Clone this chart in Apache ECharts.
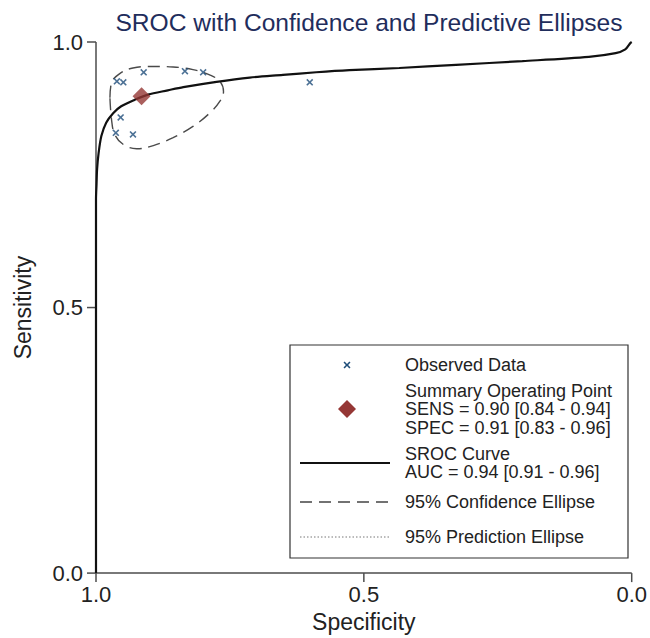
<!DOCTYPE html>
<html>
<head>
<meta charset="utf-8">
<script src="https://cdn.jsdelivr.net/npm/echarts@6/dist/echarts.min.js"></script>
<style>
html,body{margin:0;padding:0;background:#fff;}
#chart{width:650px;height:638px;}
</style>
</head>
<body>
<div id="chart"></div>
<script>
// Observed study points
const obsSpec = [0.961, 0.949, 0.911, 0.834, 0.800, 0.601, 0.954, 0.963, 0.931];
const obsSens = [0.926, 0.924, 0.943, 0.945, 0.943, 0.924, 0.858, 0.829, 0.826];
// Summary operating point
const summarySpec = [0.915];
const summarySens = [0.898];
// SROC curve
const srocSpec = [1.0, 1.0, 0.999, 0.998, 0.995, 0.990, 0.981, 0.968, 0.953, 0.928, 0.903, 0.866, 0.837, 0.775, 0.713, 0.651, 0.589, 0.527, 0.434, 0.328, 0.204, 0.080, 0.030, 0.012, 0.0025, 0.0];
const srocSens = [0.0, 0.704, 0.732, 0.760, 0.792, 0.823, 0.848, 0.866, 0.879, 0.891, 0.901, 0.909, 0.915, 0.925, 0.933, 0.938, 0.943, 0.947, 0.951, 0.957, 0.964, 0.972, 0.979, 0.986, 0.998, 1.0];
// 95% confidence ellipse
const confSpec = [0.974, 0.971, 0.955, 0.931, 0.893, 0.856, 0.819, 0.788, 0.769, 0.762, 0.769, 0.788, 0.819, 0.856, 0.893, 0.924, 0.949, 0.965, 0.971, 0.974];
const confSens = [0.895, 0.923, 0.941, 0.951, 0.954, 0.953, 0.948, 0.938, 0.926, 0.907, 0.888, 0.866, 0.841, 0.820, 0.805, 0.799, 0.807, 0.826, 0.854, 0.895];
// Axis ticks
const tickValues = [0.0, 0.5, 1.0];
const titleText = 'SROC with Confidence and Predictive Ellipses';
const legendLabels = ['Observed Data', 'Summary Operating Point\nSENS = 0.90 [0.84 - 0.94]\nSPEC = 0.91 [0.83 - 0.96]', 'SROC Curve\nAUC = 0.94 [0.91 - 0.96]', '95% Confidence Ellipse', '95% Prediction Ellipse'];

const zip = (a, b) => a.map((v, i) => [v, b[i]]);
const FONT = '"Liberation Sans", Arial, sans-serif';
const crossShape = [[0,1.6],[1.6,0],[5,3.4],[8.4,0],[10,1.6],[6.6,5],[10,8.4],[8.4,10],[5,6.6],[1.6,10],[0,8.4],[3.4,5]];
const crossPath = 'path://M' + crossShape.map(p => p.join(',')).join('L') + 'Z';
const crossColor = '#1f4e7a';
const diamondColor = '#953735';
const axisColor = '#4d4d4d';

const chart = echarts.init(document.getElementById('chart'), null, {renderer: 'svg'});

// legend drawn as graphic
const LX = 290, LY = 345, LW = 338, LH = 213;
const iconL = 300, iconR = 390, iconC = 347, textX = 405;
const crossPts = crossShape.map(p => [iconC - 3.5 + p[0] * 0.7, 365 - 3.5 + p[1] * 0.7]);
const LFONT = '18px ' + FONT;
const legendGraphics = [
  {id: 'lg0', type: 'rect', shape: {x: LX, y: LY, width: LW, height: LH}, style: {fill: '#fff', stroke: '#333', lineWidth: 1.2}},
  {id: 'lg1', type: 'polygon', shape: {points: crossPts}, style: {fill: crossColor}},
  {id: 'lg2', type: 'text', x: textX, y: 365, style: {text: legendLabels[0], font: LFONT, fill: '#222', verticalAlign: 'middle'}},
  {id: 'lg3', type: 'polygon', shape: {points: [[iconC, 400], [iconC + 9, 409], [iconC, 418], [iconC - 9, 409]]}, style: {fill: diamondColor}},
  {id: 'lg4', type: 'text', x: textX, y: 409, style: {text: legendLabels[1], font: LFONT, fill: '#222', verticalAlign: 'middle', lineHeight: 18.5}},
  {id: 'lg5', type: 'line', shape: {x1: iconL, y1: 463, x2: iconR, y2: 463}, style: {stroke: '#111', lineWidth: 2}},
  {id: 'lg6', type: 'text', x: textX, y: 463, style: {text: legendLabels[2], font: LFONT, fill: '#222', verticalAlign: 'middle', lineHeight: 18.5}},
  {id: 'lg7', type: 'line', shape: {x1: iconL, y1: 502, x2: iconR, y2: 502}, style: {stroke: '#444', lineWidth: 1.3, lineDash: [12, 7]}},
  {id: 'lg8', type: 'text', x: textX, y: 502, style: {text: legendLabels[3], font: LFONT, fill: '#222', verticalAlign: 'middle'}},
  {id: 'lg9', type: 'line', shape: {x1: iconL, y1: 537, x2: iconR, y2: 537}, style: {stroke: '#777', lineWidth: 1, lineDash: [1.5, 2]}},
  {id: 'lg10', type: 'text', x: textX, y: 537, style: {text: legendLabels[4], font: LFONT, fill: '#222', verticalAlign: 'middle'}}
];

const axisCommon = {
  type: 'value', min: 0, max: 1, interval: 0.5,
  splitLine: {show: false},
  axisLine: {show: false, onZero: false},
  axisTick: {show: false},
  axisLabel: {color: '#222', fontSize: 22, fontFamily: FONT, formatter: v => tickValues.includes(v) ? v.toFixed(1) : ''},
  nameLocation: 'middle',
  nameTextStyle: {color: '#222', fontSize: 23, fontFamily: FONT}
};

chart.setOption({
  animation: false,
  backgroundColor: '#fff',
  title: {text: titleText, left: 364, top: 5, textAlign: 'center',
    textStyle: {color: '#1f2d5c', fontSize: 24.6, fontWeight: 'normal', fontFamily: FONT}},
  grid: {left: 96, right: 18, top: 42, bottom: 62, containLabel: false},
  xAxis: Object.assign({}, axisCommon, {inverse: true, name: 'Specificity', nameGap: 36,
    axisLabel: Object.assign({}, axisCommon.axisLabel, {margin: 10})}),
  yAxis: Object.assign({}, axisCommon, {name: 'Sensitivity', nameGap: 62,
    axisLabel: Object.assign({}, axisCommon.axisLabel, {margin: 13})}),
  graphic: legendGraphics,
  series: [
    {name: 'SROC Curve', type: 'line', data: zip(srocSpec, srocSens), showSymbol: false, smooth: 0.3,
      lineStyle: {color: '#111', width: 2.2}, z: 3},
    {name: '95% Confidence Ellipse', type: 'line', data: zip(confSpec, confSens), showSymbol: false, smooth: 0.4,
      lineStyle: {color: '#4a4a4a', width: 1.4, type: [12, 7]}, z: 2},
    {name: '95% Prediction Ellipse', type: 'line', data: [], showSymbol: false,
      lineStyle: {color: '#777', width: 1, type: 'dotted'}},
    {name: 'Observed Data', type: 'scatter', data: zip(obsSpec, obsSens), symbol: crossPath, symbolSize: 7,
      itemStyle: {color: crossColor}, z: 4},
    {name: 'Summary Operating Point', type: 'scatter', data: zip(summarySpec, summarySens), symbol: 'diamond', symbolSize: [18, 18],
      itemStyle: {color: diamondColor}, z: 5}
  ]
});

// axis lines and ticks, positioned through the chart's own scales
const px = v => chart.convertToPixel({gridIndex: 0}, v);
const bl = px([1, 0]), br = px([0, 0]), tl = px([1, 1]);
const axisStyle = {stroke: axisColor, lineWidth: 1.5};
const axisGraphics = [
  {id: 'ax', type: 'line', z: 1, shape: {x1: bl[0], y1: bl[1], x2: br[0], y2: br[1]}, style: axisStyle},
  {id: 'ay', type: 'line', z: 1, shape: {x1: bl[0], y1: bl[1], x2: tl[0], y2: tl[1]}, style: axisStyle}
];
tickValues.forEach((v, i) => {
  const xp = px([v, 0]);
  const yp = px([1, v]);
  axisGraphics.push({id: 'tx' + i, type: 'line', z: 1, shape: {x1: xp[0], y1: xp[1], x2: xp[0], y2: xp[1] + 9}, style: axisStyle});
  axisGraphics.push({id: 'ty' + i, type: 'line', z: 1, shape: {x1: yp[0], y1: yp[1], x2: yp[0] - 9, y2: yp[1]}, style: axisStyle});
});
chart.setOption({graphic: legendGraphics.concat(axisGraphics)});
</script>
</body>
</html>
